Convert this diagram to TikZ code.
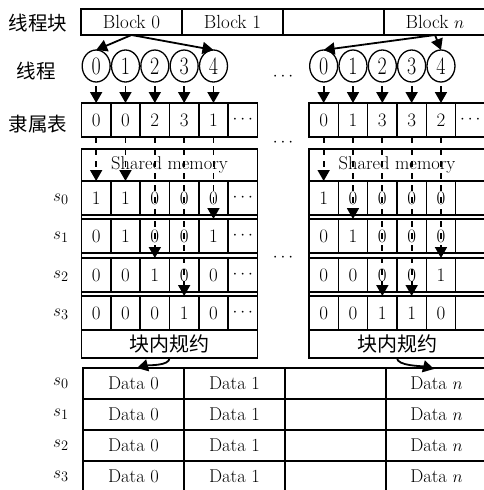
\documentclass[tikz,border=0pt]{standalone}
\usepackage{fontspec}
\usepackage{graphicx}
\newfontfamily\cjk{Noto Sans CJK SC}
\usetikzlibrary{arrows.meta,shapes.geometric}
\newcommand\fs[1]{\fontsize{#1}{#1}\selectfont}
\newcommand\cellrow[9]{%
  \foreach \v [count=\i from 0] in {#4,#5,#6,#7,#8,#9}{%
    \node[cell] (#1\i) at ({#2+29.33*(\i+0.5)},#3) {\v};}}
\begin{document}
\begin{tikzpicture}[x=1pt,y=-1pt,
  box/.style={draw, line width=1.6pt, inner sep=0pt, outer sep=0pt},
  cell/.style={box, minimum width=29.33pt, minimum height=34pt, font=\fs{19}},
  ell/.style={draw, ellipse, line width=1.3pt, minimum width=28pt, minimum height=32pt, inner sep=0pt, outer sep=0pt, font=\fs{25}},
  arr/.style={line width=1.8pt, -{Triangle[length=11pt,width=12pt]}},
  darr/.style={arr, dash pattern=on 6pt off 6pt},
  lab/.style={font=\cjk\fs{19.5}},
  slab/.style={font=\fs{19}},
  dots/.style={font=\fs{18}},
  blk/.style={box, minimum width=101pt, minimum height=26pt, font=\fs{19}},
  dat/.style={box, minimum width=101pt, minimum height=31pt, font=\fs{18.5}}]
\useasboundingbox (0,0) rectangle (484,490);

% left labels
\node[lab] (lb1) at (38,23) {线程块};
\node[lab] (lb2) at (36,71) {线程};
\node[lab] (lb3) at (38,124) {隶属表};

% block row
\node[blk] (B0) at (131.5,22) {Block 0};
\node[blk] (B1) at (232.5,22) {Block 1};
\node[blk] (B2) at (333.5,22) {};
\node[blk, minimum width=102pt] (Bn) at (435,22) {Block $n$};

% circles
\foreach \i in {0,...,4}{
  \node[ell] (LP\i) at ({81.5+29.33*(\i+0.5)},66) {\scalebox{0.8}[1]{\i}};
  \node[ell] (RP\i) at ({309+29.33*(\i+0.5)},66) {\scalebox{0.8}[1]{\i}};
}
\node[dots] (dt1) at (283,77) {$\cdots$};
\node[dots] (dt2) at (283,143) {$\cdots$};
\node[dots] (dt3) at (283,258) {$\cdots$};

% membership tables
\cellrow{LT}{81.5}{120}{0}{0}{2}{3}{1}{$\cdots$}
\cellrow{RT}{309}{120}{0}{1}{3}{3}{2}{$\cdots$}

% frames
\draw[line width=1.6pt] (81.5,149) rectangle (257.5,358);
\draw[line width=1.6pt] (309,149) rectangle (485,358);
\node[box, minimum width=176pt, minimum height=32pt, font=\fs{18.5}] (LSM) at (169.5,165) {Shared memory};
\node[box, minimum width=176pt, minimum height=32pt, font=\fs{18.5}] (RSM) at (397,165) {Shared memory};

% shared memory rows (left)
\cellrow{LA}{81.5}{198}{1}{1}{0}{0}{0}{$\cdots$}
\cellrow{LB}{81.5}{236}{0}{\raisebox{-5pt}{1}}{0}{0}{1}{$\cdots$}
\cellrow{LC}{81.5}{275}{0}{0}{1}{0}{0}{$\cdots$}
\cellrow{LD}{81.5}{313}{0}{0}{0}{1}{0}{$\cdots$}
% right
\cellrow{RA}{309}{198}{1}{0}{0}{0}{0}{}
\cellrow{RB}{309}{236}{0}{\raisebox{-5pt}{1}}{0}{0}{0}{}
\cellrow{RC}{309}{275}{0}{0}{0}{0}{1}{}
\cellrow{RD}{309}{313}{0}{0}{1}{1}{0}{}

% reduction boxes
\node[box, minimum width=176pt, minimum height=28pt, font=\cjk\fs{20}] (LR) at (169.5,344) {块内规约\hspace{16pt}};
\node[box, minimum width=176pt, minimum height=28pt, font=\cjk\fs{20}] (RR) at (397,344) {块内规约\hspace{16pt}};

% s labels
\foreach \r/\y in {0/199,1/237,2/276,3/314}{
  \node[slab] (us\r) at (61,\y) {$s_{\r}$};
}

% data table
\foreach \r/\y in {0/383.5,1/414.5,2/445.5,3/476.5}{
  \node[slab] (ds\r) at (61,\y) {$s_{\r}$};
  \node[dat] (D\r a) at (133.5,\y) {Data 0};
  \node[dat] (D\r b) at (234.5,\y) {Data 1};
  \node[dat] (D\r c) at (335.5,\y) {};
  \node[dat] (D\r d) at (436.5,\y) {Data $n$};
}

% block -> thread arrows
\draw[arr] (B0.south) -- (LP0.north);
\draw[arr] (B0.south) -- (LP4.north);
\draw[arr] (Bn.south) -- (RP0.north);
\draw[arr] (Bn.south) -- (RP4.north);

% thread -> table arrows
\foreach \i in {0,...,4}{
  \draw[arr, shorten <=4pt] (LP\i.south) -- (LT\i.north);
  \draw[arr, shorten <=4pt] (RP\i.south) -- (RT\i.north);
}

% table -> shared memory (dashed)
\draw[darr] (LT0.south) -- (LA0.north);
\draw[darr] (LT1.south) -- (LA1.north);
\draw[darr] (LT2.south) -- (LC2.north);
\draw[darr] (LT3.south) -- (LD3.north);
\draw[darr] (LT4.south) -- (LB4.north);
\draw[darr] (RT0.south) -- (RA0.north);
\draw[darr] (RT1.south) -- (RB1.north);
\draw[darr] (RT2.south) -- (RD2.north);
\draw[darr] (RT3.south) -- (RD3.north);
\draw[darr] (RT4.south) -- (RC4.north);

% reduction arrows
\coordinate (e0) at (137,368);
\coordinate (en) at (434,369);
\draw[arr] (LR.south) .. controls +(0,8) and +(12,-3) .. (e0);
\draw[arr] (RR.south) .. controls +(0,8) and +(-12,-3) .. (en);
\end{tikzpicture}
\end{document}
